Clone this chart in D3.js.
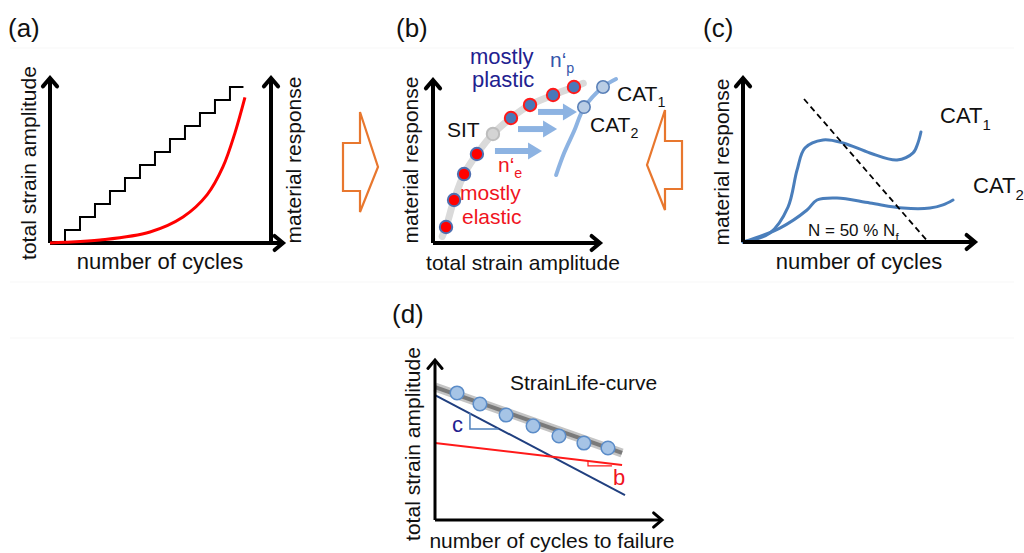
<!DOCTYPE html>
<html>
<head>
<meta charset="utf-8">
<style>
  body { margin: 0; background: #fff; }
  svg text { font-family: "Liberation Sans", Arial, sans-serif; }
</style>
<title>Strain-life schematic</title>
</head>
<body>
<script src="https://cdn.jsdelivr.net/npm/d3@7"></script>
<script>

// ---- (a) staircase test: cycle blocks vs strain level
var stepCycles = [0, 1, 2, 3, 4, 5, 6, 7, 8, 9, 10, 11, 12, 12.9];
var stepLevels = [0, 1, 2, 3, 4, 5, 6, 7, 8, 9, 10, 11, 12, 12];
var respCycles = [0, 1, 3.33, 6.67, 8.87, 10.47, 11.53, 12.33, 13.0];
var respValues = [0, 0.05, 0.23, 0.85, 2.0, 3.7, 5.85, 8.46, 11.2];

// ---- (b) SIT points (axis units 0..100)
var sitStrain   = [7.8, 12.6, 18.6, 26.3, 35.9, 46.7, 58.1, 71.9, 84.4];
var sitResponse = [9.8, 26.4, 42.3, 54.6, 66.9, 76.7, 84.7, 90.8, 95.7];
var sitRegime   = ["e", "e", "e", "e", "sit", "p", "p", "p", "p"];
var sitLineStrain   = [5.5, 7.8, 12.6, 18.6, 26.3, 35.9, 46.7, 58.1, 71.9, 84.4, 90];
var sitLineResponse = [4.0, 9.8, 26.4, 42.3, 54.6, 66.9, 76.7, 84.7, 90.8, 95.7, 98];
var catStrain   = [73.7, 78.5, 84.5, 90.4, 101.8, 109.6];
var catResponse = [41.7, 55.2, 68.7, 82.8, 95.7, 100.6];
var catDotStrain   = [101.8, 90.4];
var catDotResponse = [95.7, 83.4];
var shiftFrom  = [37.1, 50.9, 62.9];
var shiftTo    = [65.3, 74.3, 86.2];
var shiftLevel = [56.4, 69.9, 80.4];

// ---- (c) CAT response vs cycles
var cat1Cycles = [0, 11.6, 19.4, 23.3, 26.7, 34.5, 43.1, 54.7, 66.4, 73.3, 75.4, 76.7];
var cat1Resp   = [0, 5.5, 21.3, 43.9, 57.3, 62.2, 60.4, 54.3, 50.0, 54.3, 60.4, 67.1];
var cat2Cycles = [0, 15.9, 27.6, 31.9, 40.5, 54.7, 69.0, 80.6, 86.2, 90.5];
var cat2Resp   = [0, 8.5, 19.5, 25.6, 26.8, 23.8, 20.7, 20.7, 22.6, 25.6];
var halfLifeCycles = [26.3, 80.2];
var halfLifeResp   = [87.2, -0.6];

// ---- (d) strain-life data
var lifeN   = [9.7, 19.8, 31.3, 43.2, 54.6, 65.6, 76.2];
var lifeAmp = [79.4, 72.5, 65.6, 58.8, 52.5, 48.1, 45.0];
var fitN = [0, 82.4],   fitAmp = [83.1, 41.9];
var plasN = [0, 83.7],  plasAmp = [78.1, 15.6];
var elasN = [0, 82.4],  elasAmp = [48.1, 34.4];
var cTriN = [15.4, 15.4, 27.8], cTriAmp = [66.9, 56.9, 56.9];
var bTriN = [67.4, 67.4, 78.0], bTriAmp = [36.9, 33.8, 33.8];

var zip = function(xs, ys) { return xs.map(function(v, i) { return [v, ys[i]]; }); };

var svg = d3.select("body").append("svg")
    .attr("width", 1024)
    .attr("height", 553);

// faint separators
[48, 282, 338].forEach(function(y) {
  svg.append("line").attr("x1", 10).attr("x2", 1014).attr("y1", y).attr("y2", y)
    .attr("stroke", "#f7f7f7").attr("stroke-width", 1);
});

function axisArrow(x0, y0, x1, y1, w) {
  svg.append("line")
    .attr("x1", x0).attr("y1", y0).attr("x2", x1).attr("y2", y1)
    .attr("stroke", "#000").attr("stroke-width", w);
  var a = Math.atan2(y1 - y0, x1 - x0), L = 11, s = 0.7;
  svg.append("path")
    .attr("d", "M" + (x1 - L * Math.cos(a - s)) + "," + (y1 - L * Math.sin(a - s)) +
               "L" + x1 + "," + y1 +
               "L" + (x1 - L * Math.cos(a + s)) + "," + (y1 - L * Math.sin(a + s)))
    .attr("fill", "none").attr("stroke", "#000").attr("stroke-width", w)
    .attr("stroke-linecap", "round").attr("stroke-linejoin", "miter");
}

function label(x, y, txt, size, opts) {
  opts = opts || {};
  var t = svg.append("text")
    .attr("x", x).attr("y", y)
    .attr("font-size", size)
    .attr("fill", opts.color || "#111")
    .attr("text-anchor", opts.anchor || "start");
  if (opts.rotate) {
    t.attr("transform", "rotate(-90," + x + "," + y + ")")
     .attr("dominant-baseline", "central");
  }
  t.append("tspan").text(txt);
  if (opts.sub) {
    t.append("tspan").attr("dy", size * 0.3).attr("font-size", size * 0.68).text(opts.sub);
  }
  return t;
}

// ======== (a)
var xa = d3.scaleLinear().domain([0, 14.67]).range([50, 270]);
var ya = d3.scaleLinear().domain([0, 12.7]).range([243, 78]);

label(8, 37, "(a)", 26);
axisArrow(xa(0), ya(0), xa(0), 78, 4);
axisArrow(xa(0), ya(0), 283, ya(0), 4);
axisArrow(271, ya(0), 271, 78, 4);

svg.append("path")
  .attr("d", d3.line().x(function(d) { return xa(d[0]); }).y(function(d) { return ya(d[1]); })
    .curve(d3.curveStepAfter)(zip(stepCycles, stepLevels)))
  .attr("fill", "none").attr("stroke", "#000").attr("stroke-width", 2);

svg.append("path")
  .attr("d", d3.line().x(function(d) { return xa(d[0]); }).y(function(d) { return ya(d[1]); })
    .curve(d3.curveCatmullRom)(zip(respCycles, respValues)))
  .attr("fill", "none").attr("stroke", "#f00").attr("stroke-width", 3);

label(28, 163, "total strain amplitude", 21, {anchor: "middle", rotate: true});
label(293, 160, "material response", 21, {anchor: "middle", rotate: true});
label(160, 269, "number of cycles", 22, {anchor: "middle"});

// orange block arrows
var blockRight = [[0, 0], [17, 0], [17, -31], [35, 24], [17, 69], [17, 48], [0, 48]];
svg.append("polygon")
  .attr("points", blockRight.map(function(p) { return (343 + p[0]) + "," + (143 + p[1]); }).join(" "))
  .attr("fill", "#fff").attr("stroke", "#e8772e").attr("stroke-width", 2.2);
svg.append("polygon")
  .attr("points", blockRight.map(function(p) { return (682 - p[0]) + "," + (141 + p[1]); }).join(" "))
  .attr("fill", "#fff").attr("stroke", "#e8772e").attr("stroke-width", 2.2);

// ======== (b)
var xb = d3.scaleLinear().domain([0, 100]).range([433, 600]);
var yb = d3.scaleLinear().domain([0, 100]).range([243, 80]);
var lineB = d3.line().x(function(d) { return xb(d[0]); }).y(function(d) { return yb(d[1]); })
  .curve(d3.curveCatmullRom);

label(396, 37, "(b)", 26);

svg.append("path").attr("d", lineB(zip(sitLineStrain, sitLineResponse)))
  .attr("fill", "none").attr("stroke", "#dadada").attr("stroke-width", 7).attr("stroke-linecap", "round");

svg.append("path").attr("d", lineB(zip(catStrain, catResponse)))
  .attr("fill", "none").attr("stroke", "#8db3e2").attr("stroke-width", 4).attr("stroke-linecap", "round");

axisArrow(xb(0), yb(0), xb(0), yb(100), 4);
axisArrow(xb(0), yb(0), xb(100), yb(0), 4);

// shift arrows
shiftFrom.forEach(function(f, i) {
  var x0 = xb(f), x1 = xb(shiftTo[i]), y = yb(shiftLevel[i]);
  svg.append("line").attr("x1", x0).attr("x2", x1 - 12).attr("y1", y).attr("y2", y)
    .attr("stroke", "#8db3e2").attr("stroke-width", 6);
  svg.append("path")
    .attr("d", "M" + (x1 - 14) + "," + (y - 8.5) + "L" + x1 + "," + y + "L" + (x1 - 14) + "," + (y + 8.5) + "Z")
    .attr("fill", "#8db3e2");
});

svg.selectAll(".sit").data(zip(sitStrain, sitResponse)).enter().append("circle")
  .attr("cx", function(d) { return xb(d[0]); })
  .attr("cy", function(d) { return yb(d[1]); })
  .attr("r", 6.2)
  .attr("fill", function(d, i) { return sitRegime[i] == "e" ? "#f00" : sitRegime[i] == "p" ? "#4a78b8" : "#d4d4d4"; })
  .attr("stroke", function(d, i) { return sitRegime[i] == "e" ? "#4f6fb0" : sitRegime[i] == "p" ? "#ff1a1a" : "#bdbdbd"; })
  .attr("stroke-width", 2);

svg.selectAll(".cat").data(zip(catDotStrain, catDotResponse)).enter().append("circle")
  .attr("cx", function(d) { return xb(d[0]); })
  .attr("cy", function(d) { return yb(d[1]); })
  .attr("r", 6.2)
  .attr("fill", "#b9cde5").attr("stroke", "#5a80b8").attr("stroke-width", 1.6);

label(410, 160, "material response", 21, {anchor: "middle", rotate: true});
label(523, 270, "total strain amplitude", 21, {anchor: "middle"});
label(470, 64, "mostly", 22, {color: "#1f2290"});
label(472, 87, "plastic", 22, {color: "#1f2290"});
label(550, 67, "n\u2018", 21, {color: "#3556aa", sub: "p"});
label(447, 137, "SIT", 21);
label(617, 101, "CAT", 21, {sub: "1"});
label(590, 132, "CAT", 21, {sub: "2"});
label(498, 172, "n\u2018", 21, {color: "#f0141e", sub: "e"});
label(460, 200, "mostly", 21, {color: "#f0141e"});
label(462, 224, "elastic", 21, {color: "#f0141e"});

// ======== (c)
var xc = d3.scaleLinear().domain([0, 100]).range([743, 975]);
var yc = d3.scaleLinear().domain([0, 100]).range([242, 78]);
var lineC = d3.line().x(function(d) { return xc(d[0]); }).y(function(d) { return yc(d[1]); })
  .curve(d3.curveCatmullRom);

label(703, 37, "(c)", 26);

svg.append("path").attr("d", lineC(zip(cat1Cycles, cat1Resp)))
  .attr("fill", "none").attr("stroke", "#4a7ebb").attr("stroke-width", 3).attr("stroke-linecap", "round");
svg.append("path").attr("d", lineC(zip(cat2Cycles, cat2Resp)))
  .attr("fill", "none").attr("stroke", "#4a7ebb").attr("stroke-width", 3).attr("stroke-linecap", "round");
svg.append("path").attr("d", d3.line().x(function(d) { return xc(d[0]); }).y(function(d) { return yc(d[1]); })
    (zip(halfLifeCycles, halfLifeResp)))
  .attr("fill", "none").attr("stroke", "#000").attr("stroke-width", 1.8).attr("stroke-dasharray", "6,4");

axisArrow(xc(0), yc(0), xc(0), yc(100), 4);
axisArrow(xc(0), yc(0), xc(100), yc(0), 4);

label(721, 162, "material response", 21, {anchor: "middle", rotate: true});
label(859, 269, "number of cycles", 22, {anchor: "middle"});
label(940, 123, "CAT", 22, {sub: "1"});
label(973, 193, "CAT", 22, {sub: "2"});
label(808, 236, "N = 50 % N", 17, {sub: "f"});

// ======== (d)
var xd = d3.scaleLinear().domain([0, 100]).range([435, 662]);
var yd = d3.scaleLinear().domain([0, 100]).range([520, 360]);
var lineD = d3.line().x(function(d) { return xd(d[0]); }).y(function(d) { return yd(d[1]); });

label(392, 323, "(d)", 26);

svg.append("path").attr("d", lineD(zip(fitN, fitAmp)))
  .attr("stroke", "#c4c4c4").attr("stroke-width", 9).attr("fill", "none");
svg.append("path").attr("d", lineD(zip(fitN, fitAmp)))
  .attr("stroke", "#7a7a7a").attr("stroke-width", 4).attr("fill", "none");
svg.append("path").attr("d", lineD(zip(plasN, plasAmp)))
  .attr("stroke", "#203f7f").attr("stroke-width", 2).attr("fill", "none");
svg.append("path").attr("d", lineD(zip(elasN, elasAmp)))
  .attr("stroke", "#ff1a1a").attr("stroke-width", 2).attr("fill", "none");
svg.append("path").attr("d", lineD(zip(cTriN, cTriAmp)))
  .attr("stroke", "#4f81bd").attr("stroke-width", 1.5).attr("fill", "none");
svg.append("path").attr("d", lineD(zip(bTriN, bTriAmp)))
  .attr("stroke", "#ff1a1a").attr("stroke-width", 1.2).attr("fill", "none");

svg.selectAll(".life").data(zip(lifeN, lifeAmp)).enter().append("circle")
  .attr("cx", function(d) { return xd(d[0]); })
  .attr("cy", function(d) { return yd(d[1]); })
  .attr("r", 6.8)
  .attr("fill", "#a6c4e6").attr("stroke", "#5b8cc8").attr("stroke-width", 1.5);

axisArrow(xd(0), yd(0), xd(0), yd(100), 3);
axisArrow(xd(0), yd(0), xd(100), yd(0), 3);

label(412, 444, "total strain amplitude", 21, {anchor: "middle", rotate: true});
label(552, 548, "number of cycles to failure", 21, {anchor: "middle"});
label(510, 390, "StrainLife-curve", 21);
label(452, 432, "c", 22, {color: "#1f2290"});
label(613, 485, "b", 22, {color: "#f0141e"});

</script>
</body>
</html>
